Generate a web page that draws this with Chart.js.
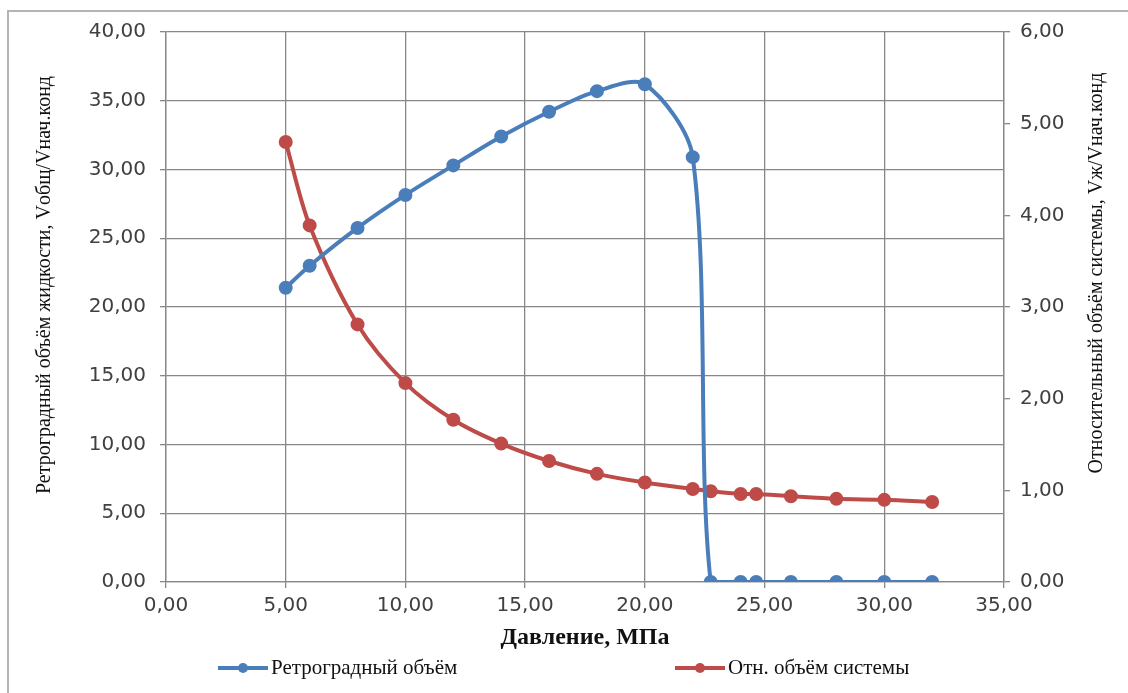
<!DOCTYPE html>
<html>
<head>
<meta charset="utf-8">
<script src="https://cdn.jsdelivr.net/npm/chart.js@4.4.0/dist/chart.umd.min.js"></script>
<style>
  html, body { margin: 0; padding: 0; background: #fff; }
  #wrap { width: 1128px; height: 693px; position: relative; }
</style>
</head>
<body>
<div id="wrap"><canvas id="myChart"></canvas></div>
<script>
// данные (давление, МПа)
const pressureRetro = [5, 6, 8, 10, 12, 14, 16, 18, 20, 22, 22.75, 24, 24.65, 26.1, 28, 30, 32];
const retroVolume   = [21.4, 23.0, 25.75, 28.15, 30.3, 32.4, 34.2, 35.7, 36.2, 30.9, 0, 0, 0, 0, 0, 0, 0];

const pressureSys   = [5, 6, 8, 10, 12, 14, 16, 18, 20, 22, 22.75, 24, 24.65, 26.1, 28, 30, 32];
const systemVolume  = [4.80, 3.89, 2.81, 2.17, 1.77, 1.51, 1.32, 1.18, 1.085, 1.015, 0.99, 0.96, 0.96, 0.935, 0.907, 0.896, 0.872];

const seriesNames = ['Ретроградный объём', 'Отн. объём системы'];
const xTitle = 'Давление, МПа';
const yLeftTitle = 'Ретроградный объём жидкости, Vобщ/Vнач.конд';
const yRightTitle = 'Относительный объём системы, Vж/Vнач.конд';

const BLUE = '#4a7ebb';
const RED = '#be4b48';
const GRID = '#888888';

function fmt(v) {
    return v.toFixed(2).replace('.', ',');
}

function toPoints(xs, ys) {
    return xs.map((x, i) => ({ x: x, y: ys[i] }));
}

// рамка вокруг диаграммы (видна только слева и сверху)
const framePlugin = {
    id: 'frame',
    beforeDraw(chart) {
        const ctx = chart.ctx;
        ctx.save();
        ctx.fillStyle = '#fff';
        ctx.fillRect(0, 0, chart.width, chart.height);
        ctx.strokeStyle = '#b4b4b4';
        ctx.lineWidth = 2;
        ctx.beginPath();
        ctx.moveTo(8, chart.height);
        ctx.lineTo(8, 11);
        ctx.lineTo(chart.width, 11);
        ctx.stroke();
        ctx.restore();
    }
};

// подписи вертикальных осей (обе читаются снизу вверх, как в Excel)
const axisTitlesPlugin = {
    id: 'axisTitles',
    afterDraw(chart) {
        const ctx = chart.ctx;
        const titles = [
            { x: 45, y: 285, text: yLeftTitle },
            { x: 1097, y: 273, text: yRightTitle }
        ];
        ctx.save();
        ctx.fillStyle = '#111';
        ctx.font = '20px "Liberation Serif", serif';
        ctx.textAlign = 'center';
        ctx.textBaseline = 'middle';
        titles.forEach(t => {
            ctx.save();
            ctx.translate(t.x, t.y);
            ctx.rotate(-Math.PI / 2);
            ctx.fillText(t.text, 0, 0);
            ctx.restore();
        });
        ctx.restore();
    }
};

// легенда в стиле Excel: линия с маркером
const legendPlugin = {
    id: 'excelLegend',
    afterDraw(chart) {
        const ctx = chart.ctx;
        const items = [
            { x: 218, color: BLUE, text: seriesNames[0] },
            { x: 675, color: RED, text: seriesNames[1] }
        ];
        const y = 668;
        ctx.save();
        items.forEach(it => {
            ctx.strokeStyle = it.color;
            ctx.lineWidth = 4;
            ctx.beginPath();
            ctx.moveTo(it.x, y);
            ctx.lineTo(it.x + 50, y);
            ctx.stroke();
            ctx.fillStyle = it.color;
            ctx.beginPath();
            ctx.arc(it.x + 25, y, 5, 0, Math.PI * 2);
            ctx.fill();
            ctx.fillStyle = '#111';
            ctx.font = '21px "Liberation Serif", serif';
            ctx.textBaseline = 'middle';
            ctx.textAlign = 'left';
            ctx.fillText(it.text, it.x + 53, y);
        });
        ctx.restore();
    }
};

const tickFont = { family: '"DejaVu Sans", sans-serif', size: 20 };

const ctx = document.getElementById('myChart').getContext('2d');

new Chart(ctx, {
    type: 'line',
    data: {
        datasets: [{
            label: seriesNames[0],
            data: toPoints(pressureRetro, retroVolume),
            yAxisID: 'y',
            borderColor: BLUE,
            backgroundColor: BLUE,
            borderWidth: 4,
            pointRadius: 5,
            pointBackgroundColor: BLUE,
            pointBorderColor: BLUE,
            tension: 0.3,
            fill: false
        }, {
            label: seriesNames[1],
            data: toPoints(pressureSys, systemVolume),
            yAxisID: 'y1',
            borderColor: RED,
            backgroundColor: RED,
            borderWidth: 4,
            pointRadius: 5,
            pointBackgroundColor: RED,
            pointBorderColor: RED,
            tension: 0.3,
            fill: false
        }]
    },
    options: {
        responsive: true,
        maintainAspectRatio: false,
        animation: false,
        layout: {
            padding: { left: 0, right: 0, top: 32, bottom: 38 }
        },
        plugins: {
            legend: { display: false },
            tooltip: { enabled: false },
            title: { display: false }
        },
        scales: {
            x: {
                type: 'linear',
                position: 'bottom',
                min: 0,
                max: 35,
                afterFit: s => { s.height = 73; },
                ticks: {
                    stepSize: 5,
                    padding: 6,
                    color: '#404040',
                    font: tickFont,
                    maxRotation: 0,
                    callback: v => fmt(v)
                },
                grid: { color: GRID, lineWidth: 1.3, tickLength: 6 },
                border: { color: GRID, width: 1.3 },
                title: {
                    display: true,
                    text: xTitle,
                    color: '#111',
                    font: { family: '"Liberation Serif", serif', size: 24, weight: 'bold' },
                    padding: { top: 0, bottom: 3 }
                }
            },
            y: {
                position: 'left',
                min: 0,
                max: 40,
                afterFit: s => { s.width = 166; },
                ticks: {
                    stepSize: 5,
                    padding: 14,
                    color: '#404040',
                    font: tickFont,
                    callback: v => fmt(v)
                },
                grid: { color: GRID, lineWidth: 1.3, tickLength: 6 },
                border: { color: GRID, width: 1.3 }
            },
            y1: {
                position: 'right',
                min: 0,
                max: 6,
                afterFit: s => { s.width = 124; },
                ticks: {
                    stepSize: 1,
                    padding: 10,
                    color: '#404040',
                    font: tickFont,
                    callback: v => fmt(v)
                },
                grid: { drawOnChartArea: false, color: GRID, lineWidth: 1.3, tickLength: 6 },
                border: { color: GRID, width: 1.3 }
            }
        }
    },
    plugins: [framePlugin, axisTitlesPlugin, legendPlugin]
});
</script>
</body>
</html>
